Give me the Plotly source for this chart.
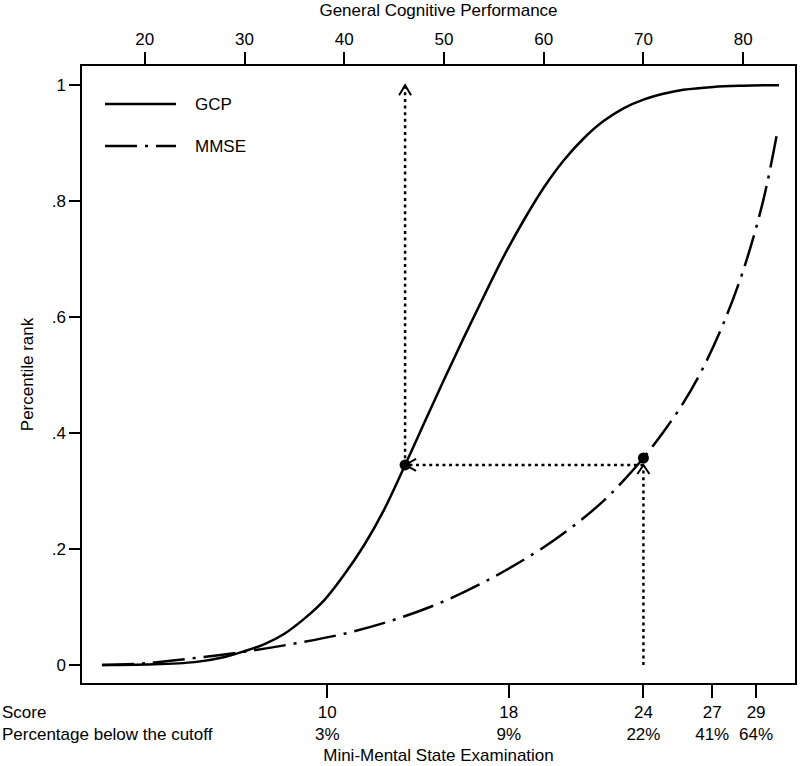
import plotly.graph_objects as go

# ---- data (x positions expressed on the GCP scale) ----
gcp_x = [15.7, 20, 25, 28, 30, 32, 34, 36, 38, 40, 42, 44, 46, 48, 50, 52, 54, 56, 58, 60,
         62, 64, 66, 68, 70, 72, 74, 77, 80, 83.6]
gcp_p = [0.0, 0.001, 0.005, 0.014, 0.024, 0.036, 0.054, 0.080, 0.112, 0.156, 0.207, 0.268,
         0.341, 0.417, 0.492, 0.565, 0.636, 0.705, 0.767, 0.823, 0.870, 0.908, 0.938, 0.960,
         0.975, 0.985, 0.992, 0.997, 0.999, 1.0]

mmse_x = [15.7, 20, 25, 30, 35, 40, 45, 50, 55, 60, 63, 66, 68, 70, 72, 74, 76, 78, 80, 82, 83.5]
mmse_p = [0.0, 0.003, 0.012, 0.023, 0.037, 0.054, 0.078, 0.110, 0.152, 0.203, 0.240, 0.283,
          0.318, 0.357, 0.402, 0.452, 0.513, 0.588, 0.680, 0.800, 0.926]

gcp_ticks = [20, 30, 40, 50, 60, 70, 80]
mmse_scores = [10, 18, 24, 27, 29]
mmse_pct = ["3%", "9%", "22%", "41%", "64%"]
mmse_pos = [38.3, 56.5, 70.0, 76.9, 81.3]   # location of each MMSE score on the GCP scale

y_ticks = [0, 0.2, 0.4, 0.6, 0.8, 1]
y_labels = ["0", ".2", ".4", ".6", ".8", "1"]

# cutoff illustration: MMSE 24 -> percentile -> GCP equivalent
cut_mmse_x = 70.0
cut_mmse_p = 0.357
cut_p = 0.345
cut_gcp_x = 46.1

x_range = [13.7, 85.2]
y_range = [-0.031, 1.033]

FONT = "Liberation Sans, Arial, sans-serif"
FS = 17
dotted = "3px,3.6px"
dashdot = "32px,8px,3px,8px"

fig = go.Figure()

fig.add_trace(go.Scatter(x=gcp_x, y=gcp_p, mode="lines", name="GCP",
                         line=dict(color="black", width=2.5, shape="spline", smoothing=1.0),
                         showlegend=False))
fig.add_trace(go.Scatter(x=mmse_x, y=mmse_p, mode="lines", name="MMSE",
                         line=dict(color="black", width=2.5, dash=dashdot, shape="spline", smoothing=1.0),
                         showlegend=False))

# dotted guide lines
fig.add_trace(go.Scatter(x=[cut_mmse_x, cut_mmse_x], y=[0, cut_p], mode="lines",
                         line=dict(color="black", width=2.5, dash=dotted), showlegend=False, hoverinfo="skip"))
fig.add_trace(go.Scatter(x=[cut_mmse_x, cut_gcp_x], y=[cut_p, cut_p], mode="lines",
                         line=dict(color="black", width=2.5, dash=dotted), showlegend=False, hoverinfo="skip"))
fig.add_trace(go.Scatter(x=[cut_gcp_x, cut_gcp_x], y=[cut_p, 1.0], mode="lines",
                         line=dict(color="black", width=2.5, dash=dotted), showlegend=False, hoverinfo="skip"))

# dots on curves
fig.add_trace(go.Scatter(x=[cut_gcp_x, cut_mmse_x], y=[cut_p, cut_mmse_p], mode="markers",
                         marker=dict(color="black", size=11), showlegend=False, hoverinfo="skip"))

# open chevron arrowheads (pixel-sized paths anchored at data points)
def chevron(x, y, path):
    fig.add_shape(type="path", xref="x", yref="y", xsizemode="pixel", ysizemode="pixel",
                  xanchor=x, yanchor=y, path=path, line=dict(color="black", width=2))

chevron(cut_mmse_x, cut_p, "M-6,-9 L0,0 L6,-9")
chevron(cut_gcp_x, cut_p, "M11,6 L0,0 L11,-6")
chevron(cut_gcp_x, 1.0, "M-6,-10 L0,0 L6,-10")

# manual legend
W = 713.0
H = 617.0
def px(xp):
    return (xp - 82) / W
def py(yp):
    return (683 - yp) / H

for ypix, dash, label in [(104, None, "GCP"), (146, dashdot, "MMSE")]:
    fig.add_shape(type="line", xref="paper", yref="paper", x0=px(105), x1=px(176),
                  y0=py(ypix), y1=py(ypix), line=dict(color="black", width=2.5, dash=dash))
    fig.add_annotation(xref="paper", yref="paper", x=px(193), y=py(ypix), text=label,
                       showarrow=False, xanchor="left", yanchor="middle",
                       font=dict(family=FONT, size=FS, color="black"))

# row labels at left of bottom axis (one two-line text)
fig.add_annotation(xref="paper", yref="paper", x=0, y=0, xshift=-82, yshift=-40,
                   text="Score<br>Percentage below the cutoff", showarrow=False,
                   xanchor="left", yanchor="middle", align="left",
                   font=dict(family=FONT, size=FS, color="black"))

# invisible trace to activate top axis
fig.add_trace(go.Scatter(x=x_range, y=[None, None], xaxis="x2", mode="lines",
                         showlegend=False, hoverinfo="skip"))

fig.update_layout(
    width=800, height=766,
    margin=dict(l=82, r=5, t=66, b=83, autoexpand=False),
    paper_bgcolor="white", plot_bgcolor="white",
    font=dict(family=FONT, size=FS, color="black"),
    showlegend=False,
    xaxis=dict(range=x_range, tickmode="array", tickvals=mmse_pos,
               ticktext=[f"{s}<br>{p}" for s, p in zip(mmse_scores, mmse_pct)],
               ticks="outside", ticklen=13, tickwidth=1.5, tickcolor="black",
               showline=True, linecolor="black", linewidth=1.5, showgrid=False, zeroline=False,
               automargin=False,
               title=dict(text="Mini-Mental State Examination", standoff=6,
                          font=dict(family=FONT, size=FS))),
    xaxis2=dict(range=x_range, overlaying="x", side="top", anchor="y", tickmode="array",
                tickvals=gcp_ticks, ticktext=[str(t) for t in gcp_ticks],
                ticks="outside", ticklen=12, tickwidth=1.5, tickcolor="black",
                showline=True, linecolor="black", linewidth=1.5, showgrid=False, zeroline=False,
                automargin=False,
                title=dict(text="General Cognitive Performance", standoff=10,
                           font=dict(family=FONT, size=FS))),
    yaxis=dict(range=y_range, tickmode="array", tickvals=y_ticks, ticktext=y_labels,
               ticks="outside", ticklen=11, tickwidth=1.5, tickcolor="black",
               showline=True, mirror=True, linecolor="black", linewidth=1.5,
               showgrid=False, zeroline=False, automargin=False,
               title=dict(text="Percentile rank", standoff=14, font=dict(family=FONT, size=FS))),
)

fig.write_html("out.html", config={"displayModeBar": False},
               post_script="document.body.style.margin='0';")
